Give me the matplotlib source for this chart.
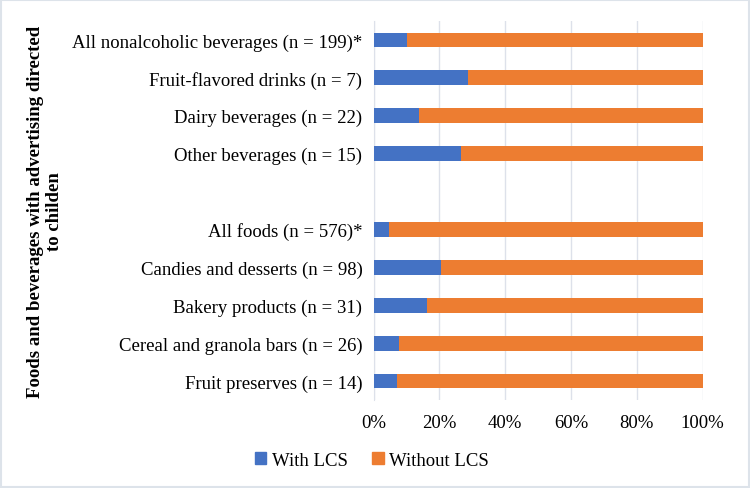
import matplotlib
matplotlib.use("Agg")
import matplotlib.pyplot as plt
from matplotlib.patches import Rectangle, Patch

plt.rcParams['font.family'] = ['Liberation Serif', 'DejaVu Serif']

categories = [
    "All nonalcoholic beverages (n = 199)*",
    "Fruit-flavored drinks (n = 7)",
    "Dairy beverages (n = 22)",
    "Other beverages (n = 15)",
    "",
    "All foods (n = 576)*",
    "Candies and desserts (n = 98)",
    "Bakery products (n = 31)",
    "Cereal and granola bars (n = 26)",
    "Fruit preserves (n = 14)",
]
with_lcs = [10.1, 28.6, 13.8, 26.7, None, 4.8, 20.5, 16.2, 7.8, 7.2]
without_lcs = [None if v is None else 100 - v for v in with_lcs]
xticks = [0, 20, 40, 60, 80, 100]
xticklabels = ["0%", "20%", "40%", "60%", "80%", "100%"]

FS = 13.5

fig = plt.figure(figsize=(7.5, 4.89), dpi=100)
ax = fig.add_axes([0.498, 0.18, 0.439, 0.775])

ypos = list(range(len(categories)))
for y, w, wo in zip(ypos, with_lcs, without_lcs):
    if w is None:
        continue
    ax.barh(y, w, height=0.39, color="#4472C4", zorder=3)
    ax.barh(y, wo, left=w, height=0.39, color="#ED7D31", zorder=3)

ax.set_ylim(len(categories) - 0.5, -0.5)
ax.set_xlim(0, 100)
ax.set_yticks(ypos)
ax.set_yticklabels(categories, fontsize=FS)
ax.set_xticks(xticks)
ax.set_xticklabels(xticklabels, fontsize=FS)
ax.tick_params(axis="y", length=0, pad=8)
ax.tick_params(axis="x", length=0, pad=10)
ax.grid(axis="x", color="#dde1ea", linewidth=1, zorder=0)
for s in ["top", "right", "bottom"]:
    ax.spines[s].set_visible(False)
ax.spines["left"].set_color("#dde1ea")

fig.text(0.06, 0.567, "Foods and beverages with advertising directed\nto childen",
         rotation=90, ha="center", va="center", fontsize=FS, fontweight="bold",
         multialignment="center", linespacing=1.1)

handles = [Patch(color="#4472C4", label="With LCS"), Patch(color="#ED7D31", label="Without LCS")]
fig.legend(handles=handles, loc="center", bbox_to_anchor=(0.496, 0.057), ncol=2,
           frameon=False, fontsize=FS, handlelength=0.6, handleheight=0.6,
           handletextpad=0.3, columnspacing=1.3)

fig.add_artist(Rectangle((0.001, 0.002), 0.997, 0.996, transform=fig.transFigure,
                         fill=False, edgecolor="#dde3ea", linewidth=1.5))

fig.savefig("out.png", dpi=100)
